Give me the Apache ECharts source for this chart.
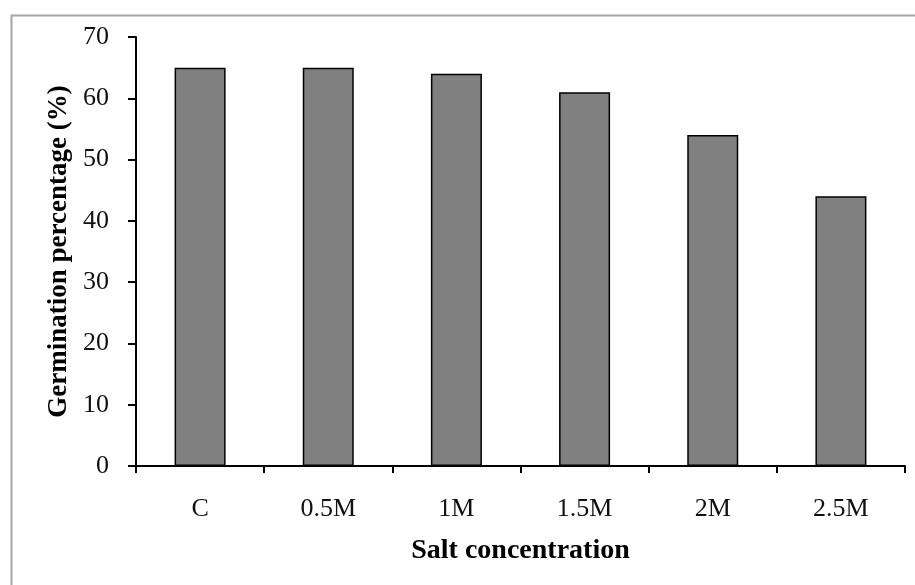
<!DOCTYPE html>
<html>
<head>
<meta charset="utf-8">
<script src="https://cdn.jsdelivr.net/npm/echarts@6/dist/echarts.min.js"></script>
<style>html,body{margin:0;padding:0;background:#fff}#c{width:915px;height:585px}</style>
</head>
<body>
<div id="c"></div>
<script>
const categories = ['C', '0.5M', '1M', '1.5M', '2M', '2.5M'];
const germination = [65, 65, 64, 61, 54, 44];
const yTicks = [0, 10, 20, 30, 40, 50, 60, 70];

const chart = echarts.init(document.getElementById('c'), null, {renderer: 'canvas'});
const font = 'Liberation Serif';
chart.setOption({
  animation: false,
  backgroundColor: '#fff',
  graphic: [{
    type: 'rect', left: 9, top: 13, shape: {width: 1000, height: 1000},
    style: {fill: 'none', stroke: '#a6a6a6', lineWidth: 2}, silent: true
  }],
  grid: {left: 136, top: 37, right: 10, bottom: 119},
  xAxis: {
    type: 'category',
    data: categories,
    name: 'Salt concentration',
    nameLocation: 'middle',
    nameGap: 71,
    nameTextStyle: {fontFamily: font, fontSize: 28, fontWeight: 'bold', color: '#000'},
    axisLine: {lineStyle: {color: '#000', width: 2}},
    axisTick: {show: true, length: 7, lineStyle: {color: '#000', width: 2}},
    axisLabel: {fontFamily: font, fontSize: 26, color: '#111', margin: 30},
    splitLine: {show: false}
  },
  yAxis: {
    type: 'value',
    min: yTicks[0], max: yTicks[yTicks.length - 1], interval: 10,
    name: 'Germination percentage (%)',
    nameLocation: 'middle',
    nameGap: 61,
    nameTextStyle: {fontFamily: font, fontSize: 27, fontWeight: 'bold', color: '#000'},
    axisLine: {show: true, lineStyle: {color: '#000', width: 2}},
    axisTick: {show: true, length: 8, lineStyle: {color: '#000', width: 2}},
    axisLabel: {fontFamily: font, fontSize: 26, color: '#111', margin: 27},
    splitLine: {show: false}
  },
  series: [{
    type: 'bar',
    data: germination,
    barWidth: 51,
    itemStyle: {color: '#808080', borderColor: '#000', borderWidth: 1.5}
  }]
});
</script>
</body>
</html>
